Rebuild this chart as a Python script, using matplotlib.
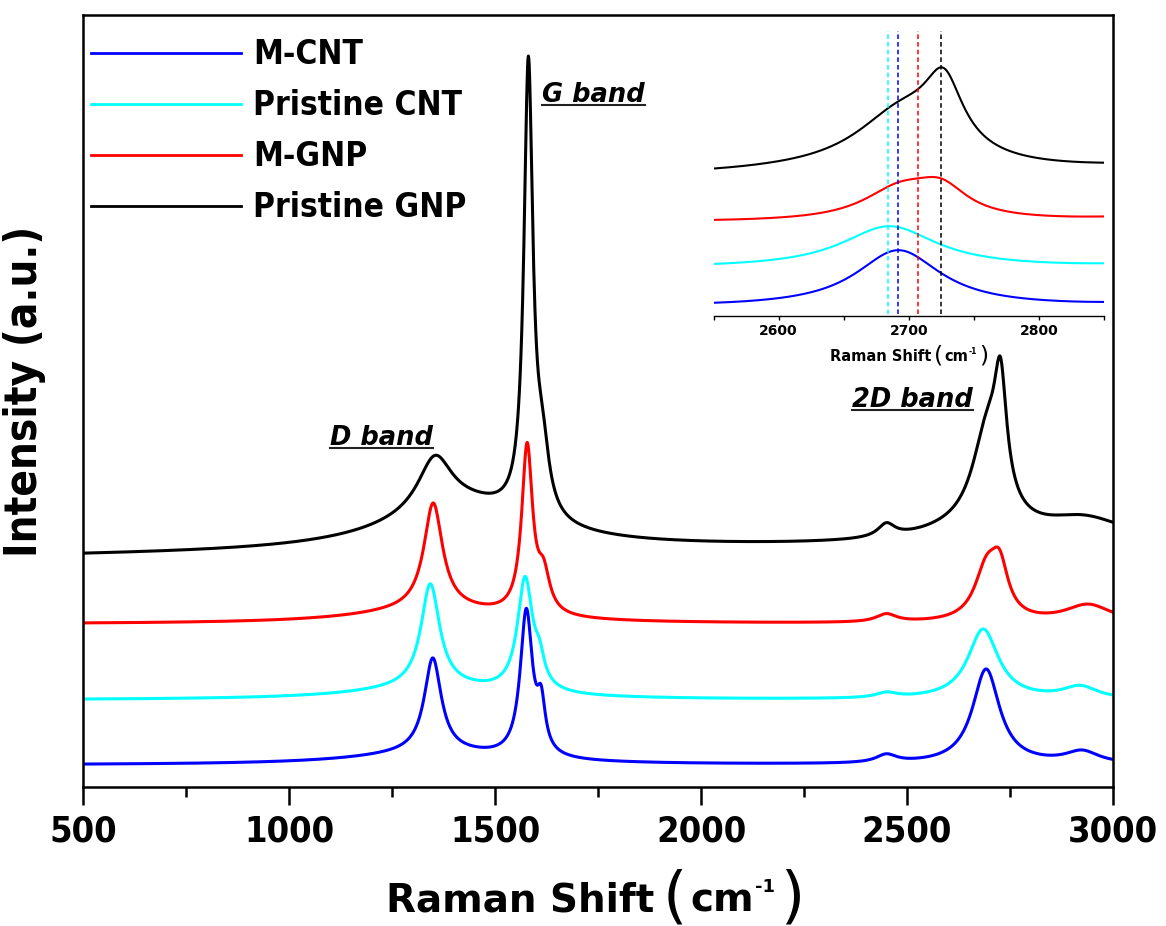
import numpy as np
import matplotlib
matplotlib.use('Agg')
import matplotlib.pyplot as plt
from matplotlib.ticker import MultipleLocator
from matplotlib.lines import Line2D
from matplotlib.transforms import IdentityTransform

plt.rcParams['font.family'] = ['DejaVu Sans']
plt.rcParams['font.weight'] = 'bold'
plt.rcParams['mathtext.fontset'] = 'dejavusans'

# ---- data: Lorentzian bands (centre, height, FWHM) ----
names = ['M-CNT', 'Pristine CNT', 'M-GNP', 'Pristine GNP']
colors = ['#0000ff', '#00ffff', '#ff0000', '#000000']
base_level = [22, 87, 163, 231]
base_rise = [0, 0, 0, 12]

mcnt_centers = [1350, 1349, 1576, 1612, 2450, 2692, 2925]
mcnt_heights = [12, 94, 145, 45, 8, 95, 12]
mcnt_widths = [450, 50, 36, 24, 60, 80, 100]

pcnt_centers = [1350, 1343, 1573, 1608, 2450, 2685, 2920]
pcnt_heights = [12, 103, 113, 22, 5, 70, 12]
pcnt_widths = [450, 55, 45, 28, 60, 90, 100]

mgnp_centers = [1350, 1350, 1578, 1618, 2450, 2693, 2725, 2940]
mgnp_heights = [14, 106, 167, 36, 8, 50, 45, 18]
mgnp_widths = [450, 55, 32, 36, 60, 70, 50, 140]

pgnp_centers = [1420, 1354, 1581, 1615, 2450, 2640, 2695, 2727, 2930]
pgnp_heights = [45, 53, 447, 60, 13, 10, 95, 110, 22]
pgnp_widths = [440, 100, 26, 40, 50, 300, 90, 36, 250]

# inset: same spectra, scaled and shifted
inset_scale = 0.6
inset_offsets = [-5, -5, -5, -10]
dash_pos = [2684, 2692, 2707, 2725]
dash_colors = ['#00ffff', '#0000ff', '#ff0000', '#000000']

x = np.arange(500, 3000.5, 1.0)


def lorentz(x, c, h, w):
    return h / (1 + ((x - c) / (w / 2.0)) ** 2)


def spectrum(base, rise, centers, heights, widths):
    y = base + rise * (x - 500) / 2500.0
    for c, h, w in zip(centers, heights, widths):
        y = y + lorentz(x, c, h, w)
    return y


tables = [(mcnt_centers, mcnt_heights, mcnt_widths),
          (pcnt_centers, pcnt_heights, pcnt_widths),
          (mgnp_centers, mgnp_heights, mgnp_widths),
          (pgnp_centers, pgnp_heights, pgnp_widths)]
spectra = [spectrum(base_level[i], base_rise[i], *tables[i]) for i in range(4)]

W, H = 1166, 926
fig = plt.figure(figsize=(W / 100, H / 100), dpi=100)
ax = fig.add_axes([83 / W, 1 - 787 / H, 1030 / W, 772 / H])

lines = {}
for i in [3, 2, 1, 0]:
    lines[i], = ax.plot(x, spectra[i], color=colors[i], lw=2.2, label=names[i])

ax.set_xlim(500, 3000)
ax.set_ylim(0, 772)
ax.set_yticks([])
ax.xaxis.set_major_locator(MultipleLocator(500))
ax.xaxis.set_minor_locator(MultipleLocator(250))
ax.tick_params(axis='x', which='major', direction='out', length=13, width=1.8,
               labelsize=26, pad=7)
ax.tick_params(axis='x', which='minor', direction='out', length=7, width=1.8)
for s in ax.spines.values():
    s.set_linewidth(1.8)
for lbl in ax.get_xticklabels():
    lbl.set_fontweight('bold')
    lbl.set_fontstretch('condensed')

ax.set_ylabel('Intensity (a.u.)', fontsize=31.5, fontweight='bold',
              fontstretch='condensed')
ax.yaxis.set_label_coords(-0.036, 0.512)

leg = ax.legend(handles=[lines[i] for i in range(4)], loc='upper left', frameon=False,
                fontsize=24, handlelength=4.5, handletextpad=0.35, labelspacing=0.54,
                borderaxespad=0.3, bbox_to_anchor=(-0.0146, 1.0))
for t in leg.get_texts():
    t.set_fontstretch('condensed')
for h in leg.legend_handles:
    h.set_linewidth(2.0)

band_texts = []
for bx, by, s in [(1100, 342, 'D band'), (1614, 685, 'G band'), (2366, 380, '2D band')]:
    t = ax.text(bx, by, s, fontsize=18.5, fontstyle='italic', fontweight='bold',
                ha='left', va='baseline')
    band_texts.append((t, by))

# inset
axi = fig.add_axes([713.5 / W, 1 - 316 / H, (1104 - 713.5) / W, (316 - 22) / H])
axi.patch.set_alpha(0)
for side in ['top', 'left', 'right']:
    axi.spines[side].set_visible(False)
axi.spines['bottom'].set_linewidth(1.0)
m = (x >= 2550) & (x <= 2850)
for i in [3, 2, 1, 0]:
    axi.plot(x[m], inset_scale * spectra[i][m] + inset_offsets[i], color=colors[i], lw=1.5)
axi.vlines(dash_pos, 2, 285, colors=dash_colors, linestyles=(0, (3, 2)), lw=1.1)
axi.set_xlim(2550, 2850)
axi.set_ylim(0, 294)
axi.set_yticks([])
axi.xaxis.set_major_locator(MultipleLocator(100))
axi.xaxis.set_minor_locator(MultipleLocator(50))
axi.tick_params(axis='x', which='both', direction='out', length=3, width=1.0,
                labelsize=10, pad=3)


def shift_label(center_px, baseline_px, fs):
    # "Raman Shift (cm-1)" with tall Origin-style brackets, built from pieces
    k = fs / 28.0
    pieces = [('Raman Shift', fs, 'bold', 0, 0),
              ('(', 45 * k, 'normal', 3 * k, 9 * k),
              ('cm', fs, 'bold', 0, 3 * k),
              ('-1', max(13 * k, 5.5), 'bold', -20 * k, 1 * k),
              (')', 45 * k, 'normal', 3 * k, 5 * k)]
    texts = []
    for s, size, weight, dy, gap in pieces:
        t = fig.text(0, 0, s, fontsize=size, fontweight=weight, ha='left',
                     va='baseline', transform=IdentityTransform())
        texts.append((t, dy, gap))
    r = fig.canvas.get_renderer()
    widths = [t.get_window_extent(r).width for t, _, _ in texts]
    total = sum(widths) + sum(g for _, _, g in texts)
    xpos = center_px - total / 2
    for (t, dy, gap), w in zip(texts, widths):
        xpos += gap
        t.set_position((xpos, H - (baseline_px + dy)))
        xpos += w


fig.canvas.draw()
shift_label(595, 912, 28)
shift_label(909, 361, 10.5)

for t, by in band_texts:
    bb = t.get_window_extent()
    yb = ax.transData.transform((0, by))[1] - 3
    fig.add_artist(Line2D([bb.x0, bb.x1], [yb, yb], transform=IdentityTransform(),
                          color='#222222', lw=1.5))

fig.savefig('out.png', dpi=100)
